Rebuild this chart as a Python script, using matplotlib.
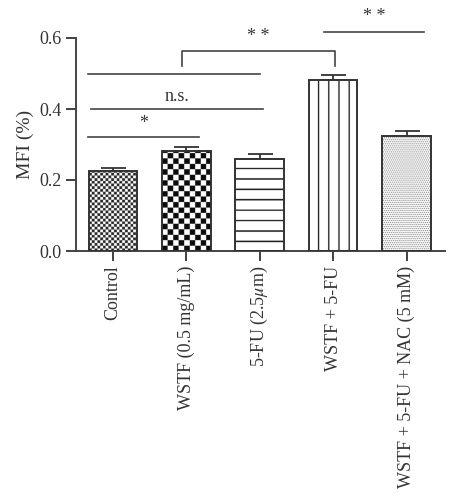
import numpy as np
import matplotlib
matplotlib.use("Agg")
import matplotlib.pyplot as plt

plt.rcParams['font.family'] = ['Liberation Serif', 'DejaVu Serif']
plt.rcParams['mathtext.fontset'] = 'stix'

groups = ['Control', 'WSTF (0.5 mg/mL)', '5-FU (2.5$\\mu$m)', 'WSTF + 5-FU',
          'WSTF + 5-FU + NAC (5 mM)']
mfi = [0.224, 0.283, 0.260, 0.481, 0.324]
sem = [0.011, 0.011, 0.014, 0.016, 0.015]
patterns = ['fine_check', 'check', 'hlines', 'vlines', 'dots']

# significance lines: (x start, x end, y, label, label y)
sig_lines = [(-0.34, 1.18, 0.321, '*', 0.336),
             (-0.30, 2.04, 0.401, 'n.s.', 0.412),
             (-0.34, 2.01, 0.500, '', 0),
             (2.88, 4.23, 0.618, '* *', 0.636)]
# bracket: (x left, x right, y top, y bottom, label)
bracket = (0.94, 3.02, 0.563, 0.521, '* *')

edge = '#333333'
OS = 4  # texture oversampling


def texture(kind, h, w):
    # h, w in screen pixels; build at OS x resolution
    i, j = np.mgrid[0:h * OS, 0:w * OS] / OS
    i = h - i  # rows from bottom
    img = np.ones(i.shape)
    if kind == 'fine_check':
        img = np.where(((i // 2.7).astype(int) + (j // 2.7).astype(int)) % 2 == 0, 0.15, 1.0)
    elif kind == 'check':
        img = np.where(((i // 5.4).astype(int) + (j // 5.4).astype(int)) % 2 == 0, 0.05, 1.0)
    elif kind == 'hlines':
        img = np.where((i % 10.3) >= 8.9, 0.1, 1.0)
    elif kind == 'vlines':
        img = np.where((j % 10.0) >= 8.6, 0.1, 1.0)
    elif kind == 'dots':
        ii = np.floor(i).astype(int)
        jj = np.floor(j).astype(int)
        img = np.where((ii % 2 == 0) & (((jj + ii // 2) % 2) == 0), 0.45, 1.0)
    return img


fig = plt.figure(figsize=(4.61, 5.0), dpi=100)
ax = fig.add_axes([0.165, 0.498, 0.80, 0.426])
x = np.arange(len(groups))

bars = ax.bar(x, mfi, width=0.66, facecolor='none', edgecolor=edge, linewidth=1.4, zorder=3)
ax.errorbar(x, mfi, yerr=[np.zeros(len(sem)), sem], fmt='none', ecolor=edge,
            elinewidth=1.3, capsize=9, capthick=1.3, zorder=2)

ax.set_xlim(-0.5, 4.52)
ax.set_ylim(0, 0.6)
fig.canvas.draw()

for b, kind in zip(bars, patterns):
    x0, x1 = b.get_x(), b.get_x() + b.get_width()
    p0 = ax.transData.transform((x0, 0))
    p1 = ax.transData.transform((x1, b.get_height()))
    w = max(int(round(p1[0] - p0[0])), 1)
    h = max(int(round(p1[1] - p0[1])), 1)
    ax.imshow(texture(kind, h, w), extent=[x0, x1, 0, b.get_height()],
              cmap='gray', vmin=0, vmax=1, interpolation='antialiased',
              aspect='auto', zorder=2.5)

ax.set_xlim(-0.5, 4.52)
ax.set_ylim(0, 0.6)

line_kw = dict(color='#444444', lw=1.2, clip_on=False)
for xs, xe, y, lab, ly in sig_lines:
    ax.plot([xs, xe], [y, y], **line_kw)
    if lab:
        ax.text((xs + xe) / 2, ly, lab, ha='center', va='bottom', fontsize=13,
                color='#333333', clip_on=False)

bl, br, bt, bb, blab = bracket
ax.plot([bl, bl, br, br], [bb, bt, bt, bb], **line_kw)
ax.text((bl + br) / 2, bt + 0.018, blab, ha='center', va='bottom', fontsize=13,
        color='#333333', clip_on=False)

ax.set_yticks([0.0, 0.2, 0.4, 0.6])
ax.set_yticklabels(['0.0', '0.2', '0.4', '0.6'])
ax.set_xticks(x)
ax.set_xticklabels(groups, rotation=90, va='top', ha='center')
ax.tick_params(axis='both', labelsize=13, colors='#333333', width=1.3, length=7,
               direction='out')
ax.set_ylabel('MFI (%)', fontsize=14, color='#333333', labelpad=4)

for s in ['top', 'right']:
    ax.spines[s].set_visible(False)
for s in ['left', 'bottom']:
    ax.spines[s].set_color('#444444')
    ax.spines[s].set_linewidth(1.4)

fig.savefig('out.png', dpi=100)
